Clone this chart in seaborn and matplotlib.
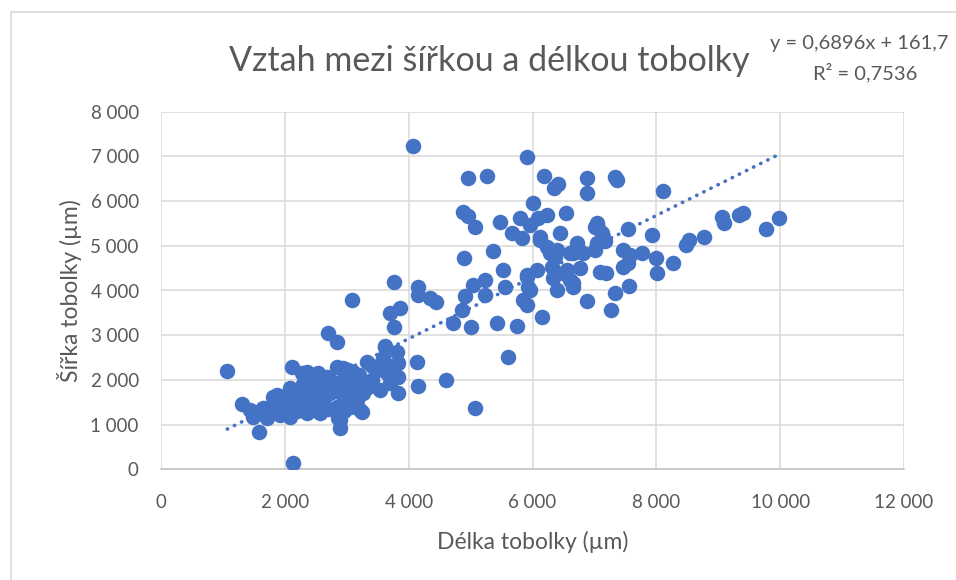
import seaborn as sns
import matplotlib.pyplot as plt
import matplotlib.ticker as mticker
import pandas as pd

# Délka (x) a šířka (y) tobolky v µm
delka = [
    1070, 1315, 1580, 2127, 1491, 1437, 1707, 1652, 1813, 1949, 2082, 2082, 2109, 2270,
    2325, 2350, 2538, 2567, 2511, 2729, 2837, 2837, 2864, 2891, 2944, 3025, 3106, 3214,
    3160, 3321, 3348, 3482, 3617, 3590, 3805, 3833, 3833, 3833, 3644, 3698, 3537, 4129,
    4155, 2406, 2621, 2191, 1922, 1760, 2729, 2999, 2837, 2675, 3160, 3267, 3052, 2460,
    2245, 4603, 5071, 5604, 2700, 3241, 2891, 2082, 1572, 1868, 2350, 2942, 3104, 3267,
    3321, 2780, 2891, 2511, 2261, 2000, 2150, 2400, 2600, 2650, 2900, 3000, 3100, 3200,
    3400, 2300, 2450, 1850, 2000, 2200, 2700, 2950, 3400, 3700, 1600,
    3768, 3092, 4155, 4155, 4344, 4441, 3698, 3860, 3768, 3617, 4075, 4719, 5006, 5421,
    5744, 6147, 4869, 4910, 5232, 5851, 5906, 5044, 5232, 5556, 5932, 5960, 4899, 5366,
    5529, 6068, 5906, 6309, 6497, 6767, 6605, 6336, 6654, 6389, 7090, 6363, 6605, 6820,
    6712, 7009, 7035, 6228, 6389, 5662, 5823, 6122, 6444, 4883, 4963, 5071, 5475, 5798,
    5959, 6093, 6228, 6539, 6000, 4963, 5259, 5906, 6185, 6416, 6350, 6884, 6874, 6884,
    6122, 6282, 6659, 7142, 6552, 5906, 6659,
    7332, 7359, 8102, 7035, 7062, 7116, 7170, 7009, 7547, 7925, 7466, 7574, 7547, 7763,
    7994, 8016, 8264, 8479, 8532, 8774, 9055, 9092, 9340, 9404, 9765, 9985, 7181, 7563,
    7332, 7263, 7466,
]
sirka = [
    2210, 1460, 840, 140, 1177, 1327, 1141, 1365, 1624, 1476, 1812, 1177, 2295, 2148,
    1700, 1253, 2148, 1253, 1848, 1700, 2295, 2855, 1141, 917, 1998, 2221, 1848, 1327,
    1550, 2407, 1848, 2221, 2743, 2483, 2631, 2371, 2072, 1714, 2148, 1924, 1774, 2407,
    1863, 1924, 1550, 1400, 1215, 1400, 1998, 1624, 1400, 2072, 2072, 1700, 1400, 1476,
    1624, 2000, 1371, 2513, 3060, 1289, 1103, 1774, 1289, 1662, 2183, 2259, 2183, 1960,
    1848, 1774, 1848, 1662, 1513, 1600, 1550, 1750, 1900, 1650, 1700, 1900, 1950, 2100,
    2000, 1900, 1600, 1350, 1350, 1300, 1350, 1300, 2300, 2300, 1250,
    4197, 3787, 4085, 3899, 3825, 3750, 3504, 3601, 3176, 2758, 7239, 3266, 3190, 3280,
    3206, 3414, 3564, 3884, 3899, 3787, 3676, 4123, 4235, 4085, 4085, 4011, 4720, 4891,
    4459, 4459, 4310, 4533, 4385, 4497, 4235, 4273, 4085, 4011, 4421, 4756, 4832, 4832,
    5056, 5428, 5056, 4980, 4906, 5280, 5168, 5204, 5280, 5763, 5667, 5414, 5540, 5615,
    5465, 5615, 5689, 5727, 5964, 6510, 6562, 6993, 6562, 6383, 6286, 6524, 6188, 3765,
    5130, 4832, 4832, 5204, 4459, 4347, 4161,
    6532, 6472, 6226, 5517, 5391, 5280, 5115, 4906, 5369, 5242, 4906, 4794, 4608, 4832,
    4720, 4385, 4623, 5018, 5130, 5204, 5638, 5503, 5689, 5741, 5376, 5615, 4398, 4101,
    3937, 3564, 4533,
]

# lineární trend podle Excelu
sklon = 0.6896
posun = 161.7
rovnice = "y = 0,6896x + 161,7"
r2_text = "R² = 0,7536"

df = pd.DataFrame({"delka": delka, "sirka": sirka})

modra = "#4472C4"
seda = "#595959"

sns.set_style("white")
plt.rcParams["font.family"] = ["Lato", "DejaVu Sans"]

fig = plt.figure(figsize=(9.56, 5.8), dpi=100)
ax = fig.add_axes([161 / 956, 1 - 469.3 / 580, (904 - 161) / 956, (469.3 - 111.7) / 580])

# rámeček grafu
fig.patches.append(plt.Rectangle((11 / 956, -0.1), 1.0, 1 - 12 / 580 + 0.1,
                                 transform=fig.transFigure, fill=False,
                                 edgecolor="#D9D9D9", linewidth=1.2))

sns.scatterplot(data=df, x="delka", y="sirka", ax=ax, color=modra, s=125,
                linewidth=0, zorder=3)

x0, x1 = min(delka), max(delka)
ax.plot([x0, x1], [sklon * x0 + posun, sklon * x1 + posun], color=modra,
        linewidth=2.6, linestyle=(0, (0.1, 2.1)), dash_capstyle="round", zorder=4)

ax.set_xlim(0, 12000)
ax.set_ylim(0, 8000)
ax.xaxis.set_major_locator(mticker.MultipleLocator(2000))
ax.yaxis.set_major_locator(mticker.MultipleLocator(1000))
fmt = mticker.FuncFormatter(lambda v, p: f"{v:,.0f}".replace(",", " "))
ax.xaxis.set_major_formatter(fmt)
ax.yaxis.set_major_formatter(fmt)
ax.grid(True, color="#D9D9D9", linewidth=1.1)
ax.set_axisbelow(True)
for side in ["top", "right", "left"]:
    ax.spines[side].set_visible(False)
ax.spines["bottom"].set_color("#BFBFBF")
ax.spines["bottom"].set_linewidth(1.1)
ax.tick_params(length=0, labelsize=13.5, labelcolor=seda)
ax.tick_params(axis="x", pad=18)
ax.tick_params(axis="y", pad=16)

ax.set_xlabel("Délka tobolky (µm)", fontsize=16.5, color=seda, labelpad=14)
ax.set_ylabel("Šířka tobolky (µm)", fontsize=16.5, color=seda, labelpad=6)

fig.text(489 / 956, 1 - 61 / 580, "Vztah mezi šířkou a délkou tobolky", ha="center",
         va="center", fontsize=24.5, color=seda)
fig.text(770 / 956, 1 - 44 / 580, rovnice, ha="left", va="center", fontsize=14.5,
         color=seda)
fig.text(865 / 956, 1 - 73 / 580, r2_text, ha="center", va="center", fontsize=14.5,
         color=seda)

fig.savefig("out.png", dpi=100)
